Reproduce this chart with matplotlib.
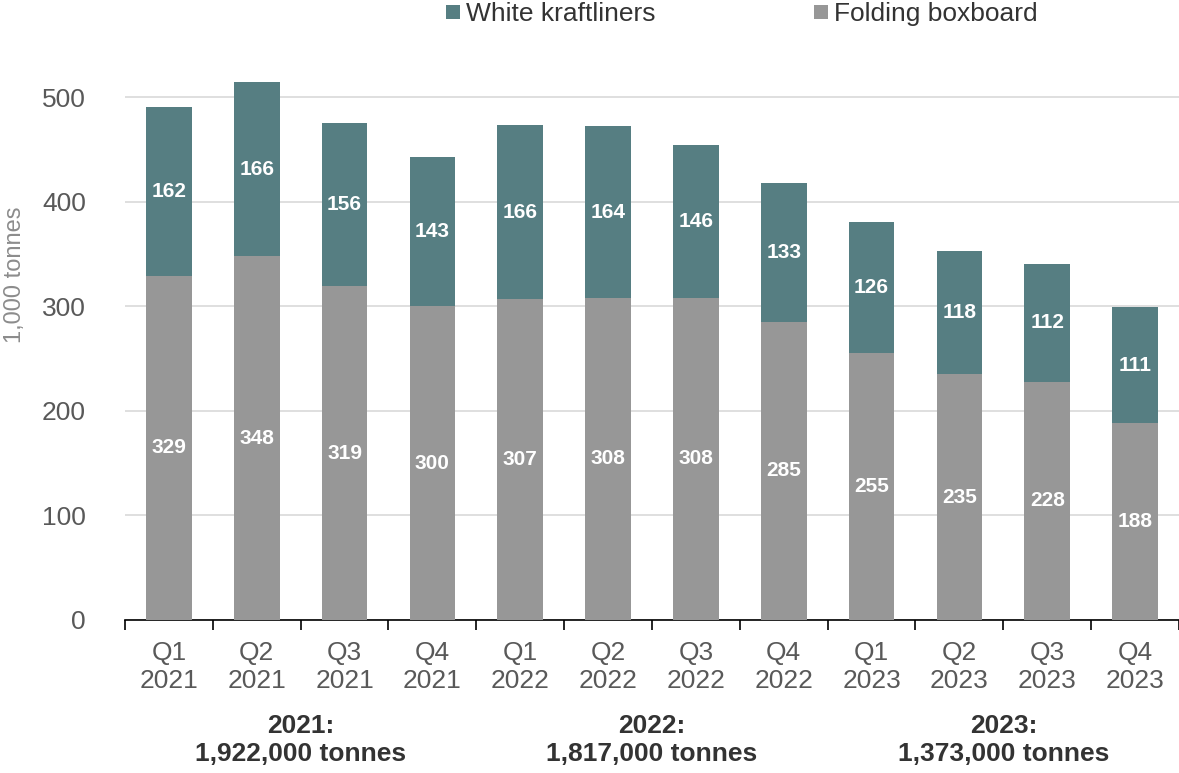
import numpy as np
import matplotlib
matplotlib.use("Agg")
import matplotlib.pyplot as plt
from matplotlib.transforms import blended_transform_factory

# --- data ---
quarters = ["Q1\n2021", "Q2\n2021", "Q3\n2021", "Q4\n2021",
            "Q1\n2022", "Q2\n2022", "Q3\n2022", "Q4\n2022",
            "Q1\n2023", "Q2\n2023", "Q3\n2023", "Q4\n2023"]
folding_boxboard = [329, 348, 319, 300, 307, 308, 308, 285, 255, 235, 228, 188]
white_kraftliners = [162, 166, 156, 143, 166, 164, 146, 133, 126, 118, 112, 111]
year_totals = ["2021:\n1,922,000 tonnes", "2022:\n1,817,000 tonnes", "2023:\n1,373,000 tonnes"]
y_ticks = [0, 100, 200, 300, 400, 500]

TEAL = "#567e82"
GREY = "#979797"
TICK_GREY = "#595959"

plt.rcParams['font.family'] = ['Liberation Sans', 'DejaVu Sans']

fig = plt.figure(figsize=(11.79, 7.73), dpi=100)
ax = fig.add_axes([0.106, 0.198, 0.894, 0.744])

x = np.arange(len(quarters))
bottom_bars = ax.bar(x, folding_boxboard, width=0.52, color=GREY, zorder=3)
top_bars = ax.bar(x, white_kraftliners, width=0.52, bottom=folding_boxboard, color=TEAL, zorder=3)

# value labels in the middle of each segment
for xi, fb, wk in zip(x, folding_boxboard, white_kraftliners):
    ax.text(xi, fb / 2, str(fb), ha='center', va='center', color='white',
            fontsize=15, fontweight='bold', zorder=4)
    ax.text(xi, fb + wk / 2, str(wk), ha='center', va='center', color='white',
            fontsize=15, fontweight='bold', zorder=4)

ax.set_xlim(-0.5, len(quarters) - 0.5)
ax.set_ylim(0, 550)

# y axis
ax.set_yticks(y_ticks)
ax.tick_params(axis='y', length=0, pad=28, labelsize=19, labelcolor=TICK_GREY)
ax.grid(axis='y', color='#d9d9d9', linewidth=1.2, zorder=0)
ax.set_axisbelow(True)

# x axis: boundary ticks, labels at bar centres
ax.set_xticks(np.arange(-0.5, len(quarters), 1.0))
ax.set_xticklabels([])
ax.tick_params(axis='x', which='major', length=7, width=1.2, color='black', direction='out')
ax.set_xticks(x, minor=True)
ax.set_xticklabels(quarters, minor=True)
ax.tick_params(axis='x', which='minor', length=0, pad=15, labelsize=19, labelcolor=TICK_GREY)

for side in ['top', 'right', 'left']:
    ax.spines[side].set_visible(False)
ax.spines['bottom'].set_color('black')
ax.spines['bottom'].set_linewidth(1.2)

fig.text(15 / 1179, 1 - 275 / 773, "1,000 tonnes", rotation=90, ha='center', va='center',
         fontsize=17, color='#8c8c8c')

# legend
fig.legend([top_bars, bottom_bars], ["White kraftliners", "Folding boxboard"],
           loc='center', bbox_to_anchor=(742 / 1179, 1 - 14 / 773), ncol=2, frameon=False,
           fontsize=19, handlelength=0.53, handleheight=0.45, handletextpad=0.23,
           columnspacing=6.0, labelcolor='#333333', borderaxespad=0, borderpad=0)

# yearly totals below the axis
trans = blended_transform_factory(ax.transData, fig.transFigure)
for gx, label in zip([1.5, 5.5, 9.5], year_totals):
    ax.text(gx, 1 - 740 / 773, label, transform=trans, ha='center', va='center',
            fontsize=19, fontweight='bold', color='#333333', linespacing=1.25)

fig.savefig("out.png", dpi=100)
